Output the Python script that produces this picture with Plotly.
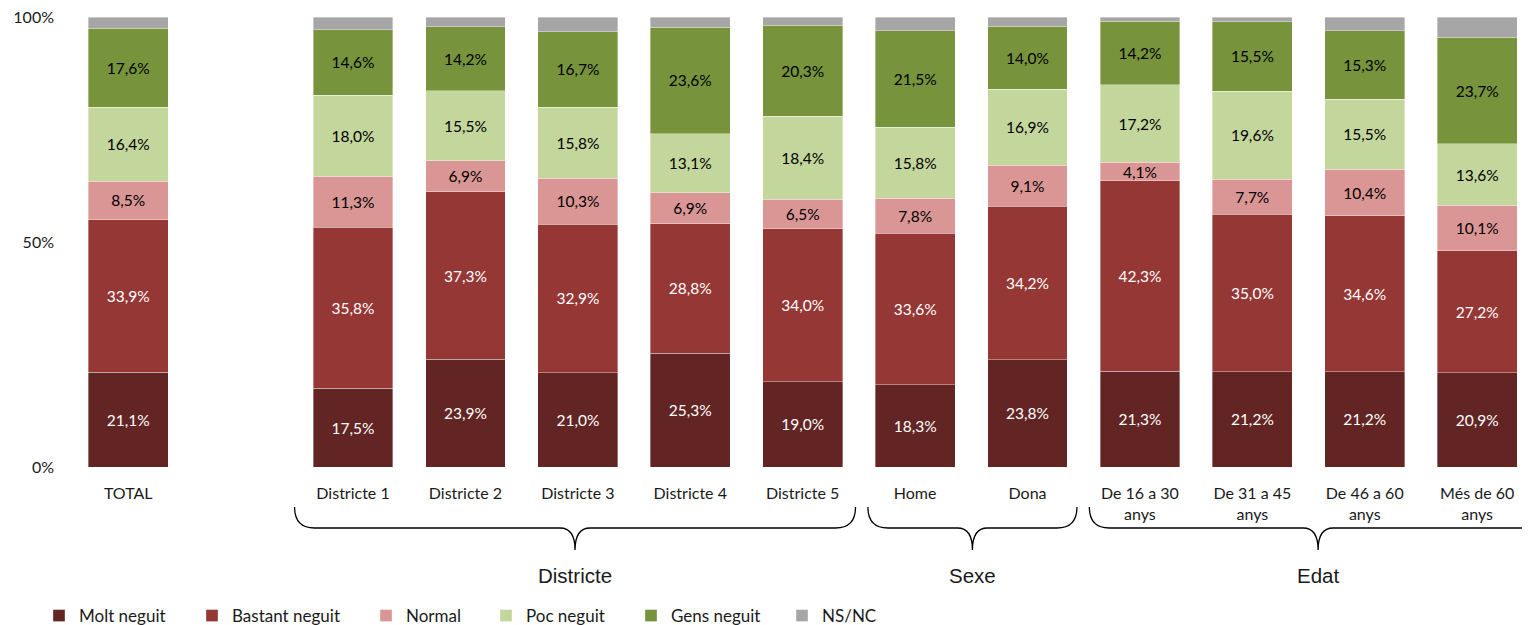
import plotly.graph_objects as go

# ---------------- data ----------------
categories = ["TOTAL", "Districte 1", "Districte 2", "Districte 3", "Districte 4", "Districte 5",
              "Home", "Dona", "De 16 a 30<br>anys", "De 31 a 45<br>anys", "De 46 a 60<br>anys",
              "Més de 60<br>anys"]
series_names = ["Molt neguit", "Bastant neguit", "Normal", "Poc neguit", "Gens neguit", "NS/NC"]

molt_neguit    = [21.1, 17.5, 23.9, 21.0, 25.3, 19.0, 18.3, 23.8, 21.3, 21.2, 21.2, 20.9]
bastant_neguit = [33.9, 35.8, 37.3, 32.9, 28.8, 34.0, 33.6, 34.2, 42.3, 35.0, 34.6, 27.2]
normal         = [8.5, 11.3, 6.9, 10.3, 6.9, 6.5, 7.8, 9.1, 4.1, 7.7, 10.4, 10.1]
poc_neguit     = [16.4, 18.0, 15.5, 15.8, 13.1, 18.4, 15.8, 16.9, 17.2, 19.6, 15.5, 13.6]
gens_neguit    = [17.6, 14.6, 14.2, 16.7, 23.6, 20.3, 21.5, 14.0, 14.2, 15.5, 15.3, 23.7]
ns_nc          = [2.5, 2.8, 2.2, 3.3, 2.3, 1.8, 3.0, 2.0, 0.9, 1.0, 3.0, 4.5]

groups = [("Districte", "Districte 1", "Districte 5"),
          ("Sexe", "Home", "Dona"),
          ("Edat", "De 16 a 30<br>anys", "Més de 60<br>anys")]

y_ticks = [0, 50, 100]
y_tick_labels = ["0%", "50%", "100%"]

# ---------------- style ----------------
colors = ["#632523", "#953735", "#D99694", "#C3D69B", "#77933C", "#A6A6A6"]
text_colors = ["white", "white", "black", "black", "black", None]
OFF = 8  # page body margin
W, H = 1530 - OFF, 625 - OFF
ML, MR, MT, MB = 72 - OFF, 0, 17 - OFF, 158
X_MIN, X_MAX = -0.5, 12.47
px_per_unit = (W - ML - MR) / (X_MAX - X_MIN)
FONT = "Lato"

# slot positions: one empty slot after TOTAL
xpos = [0] + [i + 1 for i in range(1, len(categories))]
pos_of = dict(zip(categories, xpos))

all_series = [molt_neguit, bastant_neguit, normal, poc_neguit, gens_neguit, ns_nc]
legend_text_x = [79, 232, 406, 526, 671, 822]

fig = go.Figure()
for i, (name, vals) in enumerate(zip(series_names, all_series)):
    lg = "legend" if i == 0 else f"legend{i+1}"
    show_text = text_colors[i] is not None
    fig.add_trace(go.Bar(
        x=xpos, y=vals, name=name,
        marker=dict(color=colors[i], line=dict(color="rgba(255,255,255,0.6)", width=0.6)),
        width=0.71,
        texttemplate="%{y:.1f}%" if show_text else None,
        textposition="inside" if show_text else "none",
        insidetextanchor="middle",
        textangle=0,
        insidetextfont=dict(family=FONT, size=15.5, color=text_colors[i] or "black"),
        legend=lg,
        hoverinfo="skip",
    ))

layout_legends = {}
for i in range(len(series_names)):
    key = "legend" if i == 0 else f"legend{i+1}"
    layout_legends[key] = dict(
        orientation="h", xref="container", yref="container",
        x=(legend_text_x[i] - OFF - 30) / W, xanchor="left",
        y=1 - (616 - OFF) / H, yanchor="middle",
        font=dict(family=FONT, size=17, color="#1a1a1a"),
        bgcolor="rgba(0,0,0,0)", itemwidth=30, borderwidth=0,
        indentation=-10, tracegroupgap=0,
    )

fig.update_layout(
    width=W, height=H,
    margin=dict(l=ML, r=MR, t=MT, b=MB, pad=0),
    barmode="stack",
    separators=",.",
    plot_bgcolor="white", paper_bgcolor="white",
    uniformtext=dict(minsize=15.5, mode="show"),
    font=dict(family=FONT, color="#1a1a1a"),
    xaxis=dict(range=[X_MIN, X_MAX], tickvals=xpos, ticktext=categories,
               showgrid=False, zeroline=False, showline=False, ticks="",
               tickfont=dict(family=FONT, size=16, color="#1a1a1a"),
               ticklabelstandoff=15, ticklabeloverflow="allow", fixedrange=True),
    yaxis=dict(range=[0, 100], tickvals=y_ticks, ticktext=y_tick_labels,
               showgrid=False, zeroline=False, showline=False, ticks="",
               tickfont=dict(family=FONT, size=16, color="#1a1a1a"),
               ticklabelstandoff=17, ticklabeloverflow="allow", fixedrange=True),
    showlegend=True,
    **layout_legends,
)

# braces and group labels
pads = {"Districte": (0.52, 0.47), "Sexe": (0.42, 0.44), "Edat": (0.45, 0.62)}
y_top, y_mid, y_tip = -40, -61, -83
curl = 20 / px_per_unit
ctr_c = 15 / px_per_unit
for label, first, last in groups:
    pl, pr = pads[label]
    x0 = pos_of[first] - pl
    x1 = pos_of[last] + pr
    c = (x0 + x1) / 2
    path = (f"M{x0},{y_top} Q{x0},{y_mid} {x0+curl},{y_mid} L{c-ctr_c},{y_mid} "
            f"Q{c},{y_mid} {c},{y_tip} Q{c},{y_mid} {c+ctr_c},{y_mid} "
            f"L{x1-curl},{y_mid} Q{x1},{y_mid} {x1},{y_top}")
    fig.add_shape(type="path", path=path, xref="x", yref="paper",
                  ysizemode="pixel", yanchor=0,
                  line=dict(color="black", width=1.3))
    fig.add_annotation(x=c, xref="x", y=0, yref="paper", yshift=-108,
                       text=label, showarrow=False, yanchor="middle",
                       font=dict(family="Liberation Sans", size=20.5, color="#1a1a1a"))

fig.write_html("out.html")
